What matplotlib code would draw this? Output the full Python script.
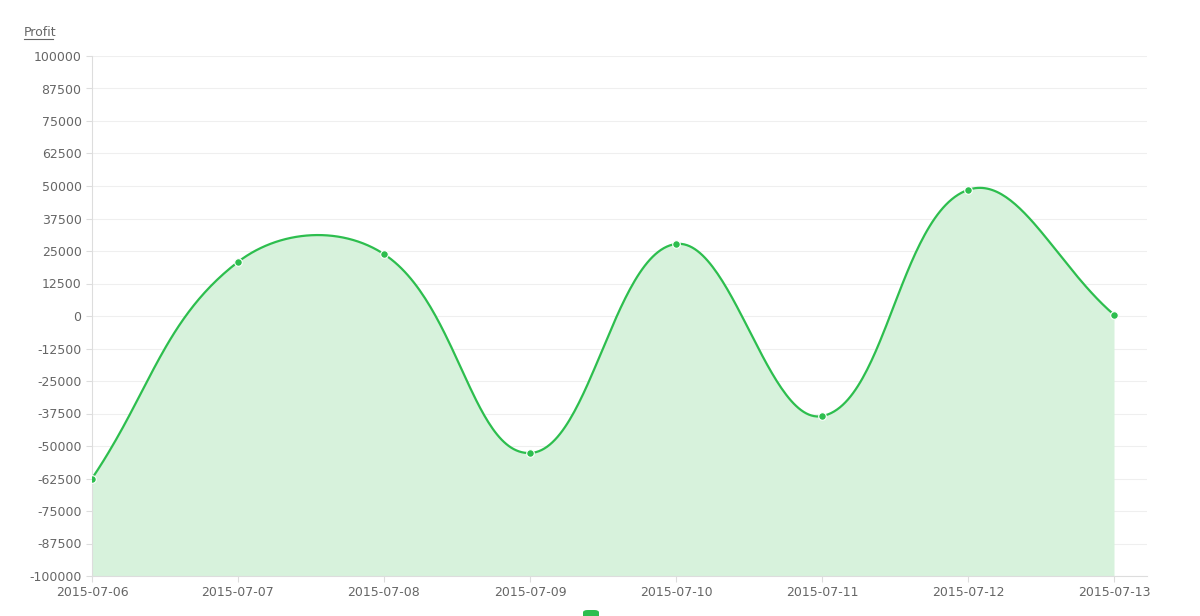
import numpy as np
import matplotlib
matplotlib.use("Agg")
import matplotlib.pyplot as plt

dates = ["2015-07-06", "2015-07-07", "2015-07-08", "2015-07-09",
         "2015-07-10", "2015-07-11", "2015-07-12", "2015-07-13"]
profit = [-62500, 20800, 23800, -52700, 27700, -38500, 48500, 500]
yticks = list(range(-100000, 100001, 12500))

line_c = "#2dbe4e"
fill_c = "#d7f2dc"

# Chart.js-like spline (tension 0.4) computed in pixel-proportional space
sx, sy = 146.0, 2.6 / 1000.0
P = np.array([[i * sx, v * sy] for i, v in enumerate(profit)])
n = len(P)
t = 0.4
cps = []
for i in range(n):
    prev = P[max(i - 1, 0)]; cur = P[i]; nxt = P[min(i + 1, n - 1)]
    d01 = np.hypot(*(cur - prev)); d12 = np.hypot(*(nxt - cur))
    s = d01 + d12
    fa = t * d01 / s if s else 0
    fb = t * d12 / s if s else 0
    cps.append((cur - fa * (nxt - prev), cur + fb * (nxt - prev)))
xs, ys = [], []
u = np.linspace(0, 1, 60)[:, None]
for i in range(n - 1):
    p0 = P[i]; p1 = cps[i][1]; p2 = cps[i + 1][0]; p3 = P[i + 1]
    b = (1 - u) ** 3 * p0 + 3 * (1 - u) ** 2 * u * p1 + 3 * (1 - u) * u ** 2 * p2 + u ** 3 * p3
    xs.extend(b[:, 0] / sx); ys.extend(b[:, 1] / sy)
xs = np.array(xs); ys = np.array(ys)

fig = plt.figure(figsize=(12, 6.16), dpi=100)
ax = fig.add_axes([92 / 1200, 1 - 576 / 616, (1147 - 92) / 1200, (576 - 56) / 616])
ax.fill_between(xs, ys, -100000, color=fill_c, lw=0, zorder=1)
ax.plot(xs, ys, color=line_c, lw=1.6, zorder=3)
ax.scatter(range(n), profit, s=30, color=line_c, edgecolor="white", linewidth=0.8, zorder=4)

ax.set_xlim(0, (1147 - 92) / 146)
ax.set_ylim(-100000, 100000)
ax.set_xticks(range(n))
ax.set_xticklabels(dates)
ax.set_yticks(yticks)
ax.set_yticklabels([str(v) for v in yticks])
ax.grid(axis="y", color="#efefef", lw=0.8, zorder=0)
ax.grid(axis="x", visible=False)
ax.set_axisbelow(True)
for s_ in ["top", "right"]:
    ax.spines[s_].set_visible(False)
for s_ in ["left", "bottom"]:
    ax.spines[s_].set_color("#dddddd")
ax.tick_params(colors="#666666", labelsize=9, length=4)
ax.tick_params(axis="both", color="#dddddd")

fig.text(24 / 1200, 1 - 33 / 616, "Profit", fontsize=9, color="#666666",
         va="center", ha="left")
fig.add_artist(plt.Line2D([24 / 1200, 53 / 1200], [1 - 39 / 616] * 2, color="#666666", lw=0.8))
from matplotlib.patches import FancyBboxPatch
fig.add_artist(FancyBboxPatch((583 / 1200, 1 - 620 / 616), 16 / 1200, 10 / 616,
               boxstyle="round,pad=0,rounding_size=0.004", transform=fig.transFigure,
               color=line_c, lw=0))
fig.savefig("out.png", dpi=100)
